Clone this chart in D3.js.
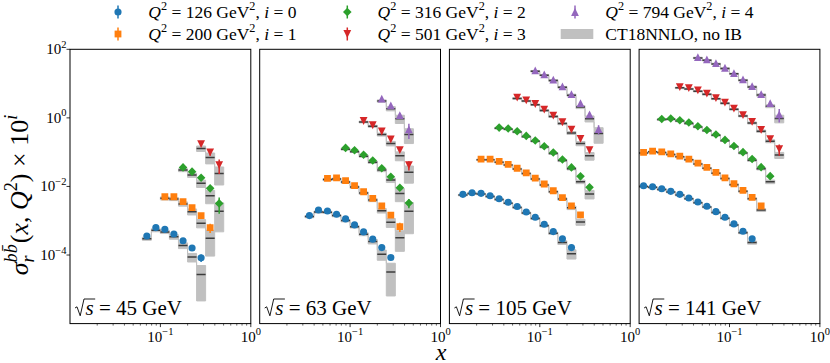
<!DOCTYPE html>
<html><head><meta charset="utf-8">
<script src="https://cdn.jsdelivr.net/npm/d3@7"></script>
<style>
html,body{margin:0;padding:0;background:#fff;}
svg{display:block;}
</style></head><body>
<svg id="chart" width="830" height="363"></svg>
<script>
// ---------------- DATA ----------------
// common x grid (bin centres)
const xGrid = [0.0112, 0.0141, 0.0178, 0.0224, 0.0282, 0.0355, 0.0447, 0.0562, 0.0708, 0.0891, 0.112, 0.141, 0.178, 0.224, 0.282, 0.355, 0.447];
const sqrtS = ["45", "63", "105", "141"];
const q2Values = [126, 200, 316, 501, 794];
const seriesColors = ["#1f77b4", "#ff7f0e", "#2ca02c", "#d62728", "#9467bd"];
const markerShapes = ["circle", "square", "diamond", "triDown", "triUp"];
const theoryLabel = "CT18NNLO, no IB";
const xTickMajor = [0.1, 1];
const xTickExp = ["\u22121", "0"];
const yTickMajor = [1e2, 1e0, 1e-2, 1e-4];
const yTickExp = ["2", "0", "\u22122", "\u22124"];

// sqrt(s) = 45 GeV : first grid index of each Q2 series, reduced cross sections (unscaled)
const start45 = [8, 10, 12, 14];
const data45 = [
  [3.6e-4, 6.3e-4, 5.6e-4, 4.1e-4, 2.6e-4, 1.6e-4, 8.3e-5],
  [5.0e-4, 5.0e-4, 3.6e-4, 2.4e-4, 1.41e-4, 6.3e-5],
  [3.6e-4, 2.7e-4, 1.8e-4, 8.8e-5, 3.2e-5],
  [1.71e-4, 9.8e-5, 4.2e-5]
];
const dataErr45 = [
  [0.04, 0.04, 0.04, 0.05, 0.06, 0.1, 0.25],
  [0.04, 0.04, 0.05, 0.06, 0.1, 0.3],
  [0.05, 0.05, 0.08, 0.15, 0.5],
  [0.08, 0.2, 0.45]
];
const theory45 = [
  [3.0e-4, 5.3e-4, 4.7e-4, 3.4e-4, 1.9e-4, 8.7e-5, 2.7e-5],
  [4.5e-4, 4.3e-4, 3.1e-4, 1.84e-4, 8.5e-5, 3.1e-5],
  [3.0e-4, 2.14e-4, 1.23e-4, 5.4e-5, 1.9e-5],
  [1.28e-4, 7.0e-5, 2.4e-5]
];
const theoryErr45 = [
  [0.1, 0.1, 0.1, 0.15, 0.19, 0.28, 0.83],
  [0.1, 0.1, 0.14, 0.2, 0.27, 0.7],
  [0.1, 0.14, 0.24, 0.42, 0.75],
  [0.18, 0.35, 0.54]
];

// sqrt(s) = 63 GeV
const start63 = [5, 7, 9, 11, 13];
const data63 = [
  [1.41e-3, 2.06e-3, 1.93e-3, 1.55e-3, 1.13e-3, 7.55e-4, 4.72e-4, 2.9e-4, 1.65e-4, 8.45e-5],
  [1.72e-3, 1.79e-3, 1.47e-3, 1.05e-3, 7.0e-4, 4.5e-4, 2.69e-4, 1.45e-4, 6.7e-5],
  [1.33e-3, 1.14e-3, 8.4e-4, 5.7e-4, 3.4e-4, 1.91e-4, 9.2e-5, 3.3e-5],
  [8.1e-4, 6.1e-4, 4.0e-4, 2.34e-4, 1.14e-4, 4.2e-5],
  [3.64e-4, 2.32e-4, 1.21e-4, 4.6e-5]
];
const dataErr63 = [
  [0.04, 0.03, 0.03, 0.03, 0.03, 0.04, 0.05, 0.06, 0.1, 0.15],
  [0.03, 0.03, 0.03, 0.04, 0.05, 0.06, 0.08, 0.12, 0.3],
  [0.03, 0.03, 0.04, 0.05, 0.06, 0.08, 0.15, 0.3],
  [0.04, 0.05, 0.06, 0.08, 0.12, 0.3],
  [0.06, 0.08, 0.15, 0.47]
];
const theory63 = [
  [1.32e-3, 1.80e-3, 1.77e-3, 1.41e-3, 1.01e-3, 6.7e-4, 4.06e-4, 2.47e-4, 1.05e-4, 3.2e-5],
  [1.59e-3, 1.64e-3, 1.34e-3, 9.6e-4, 6.4e-4, 4.0e-4, 1.97e-4, 9.0e-5, 3.2e-5],
  [1.22e-3, 1.035e-3, 7.65e-4, 5.1e-4, 3.0e-4, 1.53e-4, 6.2e-5, 1.9e-5],
  [7.6e-4, 5.7e-4, 3.27e-4, 1.79e-4, 7.9e-5, 2.6e-5],
  [3.1e-4, 1.86e-4, 9.4e-5, 3.3e-5]
];
const theoryErr63 = [
  [0.07, 0.07, 0.07, 0.07, 0.08, 0.08, 0.1, 0.15, 0.33, 0.8],
  [0.07, 0.07, 0.07, 0.08, 0.08, 0.1, 0.15, 0.29, 0.6],
  [0.06, 0.06, 0.07, 0.08, 0.1, 0.15, 0.42, 0.78],
  [0.06, 0.07, 0.1, 0.15, 0.29, 0.52],
  [0.08, 0.14, 0.27, 0.46]
];

// sqrt(s) = 105 GeV
const start105 = [1, 3, 5, 7, 9];
const data105 = [
  [5.89e-3, 6.56e-3, 6.3e-3, 5.37e-3, 4.39e-3, 3.45e-3, 2.61e-3, 1.8e-3, 1.26e-3, 7.9e-4, 4.82e-4, 2.96e-4, 1.65e-4],
  [6.3e-3, 6.3e-3, 5.4e-3, 4.4e-3, 3.4e-3, 2.5e-3, 1.75e-3, 1.18e-3, 7.5e-4, 4.7e-4, 2.7e-4, 1.48e-4],
  [5.2e-3, 4.9e-3, 4.07e-3, 2.98e-3, 2.19e-3, 1.49e-3, 9.8e-4, 6.1e-4, 3.6e-4, 1.97e-4, 9.4e-5],
  [3.89e-3, 3.25e-3, 2.54e-3, 1.74e-3, 1.17e-3, 7.45e-4, 4.57e-4, 2.44e-4, 1.14e-4],
  [2.42e-3, 1.85e-3, 1.3e-3, 8.3e-4, 4.95e-4, 2.71e-4, 1.27e-4, 4.7e-5]
];
const dataErr105 = [
  [0.03, 0.03, 0.03, 0.03, 0.03, 0.03, 0.03, 0.03, 0.04, 0.05, 0.06, 0.1, 0.2],
  [0.03, 0.03, 0.03, 0.03, 0.03, 0.03, 0.03, 0.04, 0.05, 0.06, 0.1, 0.2],
  [0.03, 0.03, 0.03, 0.03, 0.03, 0.03, 0.04, 0.05, 0.06, 0.1, 0.2],
  [0.03, 0.03, 0.03, 0.04, 0.04, 0.05, 0.06, 0.1, 0.15],
  [0.04, 0.04, 0.04, 0.05, 0.06, 0.08, 0.12, 0.3]
];
const theory105 = [
  [5.6e-3, 6.2e-3, 6.0e-3, 5.1e-3, 4.15e-3, 3.25e-3, 2.45e-3, 1.68e-3, 1.17e-3, 7.2e-4, 4.3e-4, 2.31e-4, 1.09e-4],
  [6.0e-3, 6.0e-3, 5.1e-3, 4.2e-3, 3.25e-3, 2.37e-3, 1.66e-3, 1.11e-3, 7.0e-4, 4.3e-4, 2.4e-4, 9.2e-5],
  [4.95e-3, 4.65e-3, 3.85e-3, 2.83e-3, 2.08e-3, 1.41e-3, 9.2e-4, 5.7e-4, 3.3e-4, 1.37e-4, 6.0e-5],
  [3.7e-3, 3.1e-3, 2.42e-3, 1.65e-3, 1.1e-3, 6.8e-4, 3.64e-4, 1.79e-4, 7.8e-5],
  [2.3e-3, 1.76e-3, 1.23e-3, 7.8e-4, 4.6e-4, 2.07e-4, 9.5e-5, 3.5e-5]
];
const theoryErr105 = [
  [0.05, 0.05, 0.05, 0.05, 0.05, 0.05, 0.05, 0.06, 0.06, 0.07, 0.08, 0.12, 0.3],
  [0.05, 0.05, 0.05, 0.05, 0.05, 0.05, 0.06, 0.06, 0.07, 0.08, 0.12, 0.2],
  [0.05, 0.05, 0.05, 0.05, 0.05, 0.06, 0.06, 0.07, 0.08, 0.12, 0.28],
  [0.05, 0.05, 0.05, 0.06, 0.06, 0.07, 0.1, 0.14, 0.25],
  [0.05, 0.05, 0.06, 0.06, 0.07, 0.1, 0.2, 0.48]
];

// sqrt(s) = 141 GeV
const start141 = [0, 0, 2, 4, 6];
const data141 = [
  [1.05e-2, 9.8e-3, 8.57e-3, 7.21e-3, 5.89e-3, 4.6e-3, 3.52e-3, 2.64e-3, 1.84e-3, 1.26e-3, 8.07e-4, 4.95e-4, 2.96e-4],
  [9.8e-3, 1.07e-2, 1.02e-2, 8.9e-3, 7.65e-3, 6.3e-3, 4.8e-3, 3.6e-3, 2.57e-3, 1.79e-3, 1.2e-3, 7.7e-4, 4.8e-4, 2.69e-4],
  [9.3e-3, 9.55e-3, 8.5e-3, 7.3e-3, 5.7e-3, 4.45e-3, 3.27e-3, 2.28e-3, 1.52e-3, 1.0e-3, 6.3e-4, 3.66e-4, 2.0e-4],
  [7.9e-3, 7.4e-3, 6.3e-3, 5.1e-3, 3.78e-3, 2.79e-3, 1.86e-3, 1.21e-3, 7.6e-4, 4.45e-4, 2.39e-4, 1.22e-4],
  [5.9e-3, 5.05e-3, 3.95e-3, 2.9e-3, 2.02e-3, 1.32e-3, 8.45e-4, 4.95e-4, 2.71e-4, 1.27e-4]
];
const dataErr141 = [
  [0.03, 0.03, 0.03, 0.03, 0.03, 0.03, 0.03, 0.03, 0.03, 0.03, 0.03, 0.05, 0.08],
  [0.03, 0.03, 0.03, 0.03, 0.03, 0.03, 0.03, 0.03, 0.03, 0.03, 0.03, 0.03, 0.05, 0.1],
  [0.03, 0.03, 0.03, 0.03, 0.03, 0.03, 0.03, 0.03, 0.03, 0.03, 0.05, 0.07, 0.1],
  [0.03, 0.03, 0.03, 0.03, 0.03, 0.03, 0.03, 0.03, 0.05, 0.08, 0.12, 0.36],
  [0.03, 0.03, 0.03, 0.03, 0.03, 0.04, 0.05, 0.08, 0.12, 0.42]
];
const theory141 = [
  [1.0e-2, 9.4e-3, 8.2e-3, 6.9e-3, 5.6e-3, 4.4e-3, 3.35e-3, 2.5e-3, 1.74e-3, 1.18e-3, 7.5e-4, 4.5e-4, 2.31e-4],
  [9.4e-3, 1.02e-2, 9.7e-3, 8.5e-3, 7.3e-3, 6.0e-3, 4.55e-3, 3.4e-3, 2.44e-3, 1.7e-3, 1.13e-3, 7.2e-4, 4.4e-4, 2.06e-4],
  [8.9e-3, 9.1e-3, 8.1e-3, 6.9e-3, 5.4e-3, 4.2e-3, 3.1e-3, 2.16e-3, 1.44e-3, 9.4e-4, 5.8e-4, 3.3e-4, 1.37e-4],
  [7.5e-3, 7.0e-3, 6.0e-3, 4.85e-3, 3.6e-3, 2.65e-3, 1.77e-3, 1.14e-3, 7.1e-4, 4.1e-4, 2.09e-4, 8.2e-5],
  [5.6e-3, 4.8e-3, 3.75e-3, 2.75e-3, 1.92e-3, 1.25e-3, 8.0e-4, 4.65e-4, 2.2e-4, 9.55e-5]
];
const theoryErr141 = [
  [0.05, 0.05, 0.05, 0.05, 0.05, 0.05, 0.05, 0.05, 0.05, 0.06, 0.06, 0.07, 0.1],
  [0.05, 0.05, 0.05, 0.05, 0.05, 0.05, 0.05, 0.05, 0.05, 0.05, 0.06, 0.06, 0.07, 0.1],
  [0.05, 0.05, 0.05, 0.05, 0.05, 0.05, 0.05, 0.05, 0.05, 0.06, 0.07, 0.08, 0.12],
  [0.05, 0.05, 0.05, 0.05, 0.05, 0.05, 0.05, 0.06, 0.07, 0.08, 0.1, 0.2],
  [0.05, 0.05, 0.05, 0.05, 0.05, 0.06, 0.07, 0.08, 0.1, 0.25]
];

const panelSets = [
  {s: sqrtS[0], start: start45, data: data45, dataErr: dataErr45, theory: theory45, theoryErr: theoryErr45},
  {s: sqrtS[1], start: start63, data: data63, dataErr: dataErr63, theory: theory63, theoryErr: theoryErr63},
  {s: sqrtS[2], start: start105, data: data105, dataErr: dataErr105, theory: theory105, theoryErr: theoryErr105},
  {s: sqrtS[3], start: start141, data: data141, dataErr: dataErr141, theory: theory141, theoryErr: theoryErr141}
];

// ---------------- LAYOUT / STYLE ----------------
const svg = d3.select("#chart");
const FONT = "Liberation Serif";
const left0 = 70, panelW = 180.8, panelGap = 8.9, plotTop = 49.3, plotBottom = 323.6;
const bandColor = "#c0c0c0", centralColor = "#3c3c3c";

function measure(str, fs, italic) {
  const t = svg.append("text").attr("font-family", FONT).attr("font-size", fs).attr("font-style", italic ? "italic" : "normal").text(str);
  const w = t.node().getComputedTextLength();
  t.remove();
  return w;
}
function newText(parent) { return parent.append("text").attr("font-family", FONT).attr("fill", "#000"); }
function addRich(textSel, segs, fs) {
  let shift = 0;
  segs.forEach(s => {
    const ts = textSel.append("tspan").text(s.t);
    let target = 0, size = fs;
    if (s.sup) { target = fs * 0.42; size = fs * 0.7; }
    if (s.sub) { target = -fs * 0.22; size = fs * 0.7; }
    ts.attr("font-size", size);
    if (s.it) ts.attr("font-style", "italic");
    const dy = shift - target;
    if (Math.abs(dy) > 1e-6) ts.attr("dy", dy);
    if (s.dx) ts.attr("dx", s.dx);
    shift = target;
  });
}
function markerPath(shape) {
  switch (shape) {
    case "circle": return d3.symbol(d3.symbolCircle, 40)();
    case "square": return "M-3.4,-3.4L3.4,-3.4L3.4,3.4L-3.4,3.4Z";
    case "diamond": return "M0,-4.3L4.3,0L0,4.3L-4.3,0Z";
    case "triDown": return "M0,3.9L-3.9,-3.9L3.9,-3.9Z";
    case "triUp": return "M0,-3.9L3.9,3.9L-3.9,3.9Z";
  }
}
function edgeL(j) { return j > 0 ? Math.sqrt(xGrid[j - 1] * xGrid[j]) : xGrid[0] * Math.sqrt(xGrid[0] / xGrid[1]); }
function edgeR(j) { const n = xGrid.length; return j < n - 1 ? Math.sqrt(xGrid[j] * xGrid[j + 1]) : xGrid[n - 1] * Math.sqrt(xGrid[n - 1] / xGrid[n - 2]); }

const yScale = d3.scaleLog().domain([1e-6, 1e2]).range([plotBottom, plotTop]);

panelSets.forEach((p, pi) => {
  const left = left0 + pi * (panelW + panelGap);
  const x = d3.scaleLog().domain([0.01, 1]).range([left, left + panelW]);
  const y = yScale;
  const clipId = "clip" + pi;
  svg.append("clipPath").attr("id", clipId).append("rect")
    .attr("x", left).attr("y", plotTop).attr("width", panelW).attr("height", plotBottom - plotTop);
  const plot = svg.append("g").attr("clip-path", `url(#${clipId})`);
  const layers = {band: plot.append("g"), line: plot.append("g"), data: plot.append("g")};

  p.data.forEach((vals, si) => {
    const scale = Math.pow(10, si);
    const i0 = p.start[si];
    const pts = vals.map((v, k) => {
      const j = i0 + k;
      const t = p.theory[si][k] * scale, te = p.theoryErr[si][k] * t;
      return {x: xGrid[j], xl: edgeL(j), xr: edgeR(j), v: v * scale, e: p.dataErr[si][k] * v * scale,
              t: t, hi: t + te, lo: Math.max(t - te, 1e-7)};
    });
    const poly = [];
    pts.forEach(d => { poly.push([x(d.xl), y(d.hi)]); poly.push([x(d.xr), y(d.hi)]); });
    for (let k = pts.length - 1; k >= 0; k--) { const d = pts[k]; poly.push([x(d.xr), y(d.lo)]); poly.push([x(d.xl), y(d.lo)]); }
    layers.band.append("path").attr("d", d3.line()(poly) + "Z")
      .attr("fill", bandColor).attr("stroke", bandColor).attr("stroke-width", 1);
    layers.line.selectAll(null).data(pts).enter().append("line")
      .attr("x1", d => x(d.xl)).attr("x2", d => x(d.xr))
      .attr("y1", d => y(d.t)).attr("y2", d => y(d.t))
      .attr("stroke", centralColor).attr("stroke-width", 1.5);
    const dg = layers.data.append("g");
    dg.selectAll(null).data(pts).enter().append("line")
      .attr("x1", d => x(d.x)).attr("x2", d => x(d.x))
      .attr("y1", d => y(d.v + d.e)).attr("y2", d => y(Math.max(d.v - d.e, 1e-7)))
      .attr("stroke", seriesColors[si]).attr("stroke-width", 1.5);
    dg.selectAll(null).data(pts).enter().append("path")
      .attr("d", markerPath(markerShapes[si]))
      .attr("transform", d => `translate(${x(d.x)},${y(d.v)})`)
      .attr("fill", seriesColors[si]);
  });

  svg.append("rect").attr("x", left).attr("y", plotTop).attr("width", panelW).attr("height", plotBottom - plotTop)
    .attr("fill", "none").attr("stroke", "#000").attr("stroke-width", 1);

  const minor = [];
  [0.01, 0.1].forEach(dec => { for (let m = 2; m <= 9; m++) minor.push(dec * m); });
  svg.append("g").selectAll(null).data(minor).enter().append("line")
    .attr("x1", d => x(d)).attr("x2", d => x(d)).attr("y1", plotBottom).attr("y2", plotBottom + 2)
    .attr("stroke", "#000").attr("stroke-width", 0.6);
  svg.append("g").selectAll(null).data(xTickMajor).enter().append("line")
    .attr("x1", d => x(d)).attr("x2", d => x(d)).attr("y1", plotBottom).attr("y2", plotBottom + 3.5)
    .attr("stroke", "#000").attr("stroke-width", 0.8);
  xTickMajor.forEach((tv, ti) => {
    const t = newText(svg).attr("x", x(tv)).attr("y", 341.5).attr("text-anchor", "middle").attr("font-size", 15);
    addRich(t, [{t: "10"}, {t: xTickExp[ti], sup: true}], 15);
  });

  const fsA = 21, bx = left + 5, by = 315;
  const sW = measure("s", fsA, true);
  svg.append("path")
    .attr("d", `M${bx},${by - 7}L${bx + 2},${by - 8.2}L${bx + 5.2},${by + 0.8}L${bx + 9},${by - 16}L${bx + 10.5 + sW + 1.5},${by - 16}`)
    .attr("fill", "none").attr("stroke", "#000").attr("stroke-width", 0.9);
  const at = newText(svg).attr("x", bx + 10.5).attr("y", by).attr("font-size", fsA);
  addRich(at, [{t: "s", it: true}, {t: " = " + p.s + " GeV"}], fsA);
});

svg.append("g").selectAll(null).data(yTickMajor).enter().append("line")
  .attr("x1", left0 - 3.5).attr("x2", left0).attr("y1", d => yScale(d)).attr("y2", d => yScale(d))
  .attr("stroke", "#000").attr("stroke-width", 0.8);
yTickMajor.forEach((tv, ti) => {
  const t = newText(svg).attr("x", 66.5).attr("y", yScale(tv) + 4.8).attr("text-anchor", "end").attr("font-size", 15);
  addRich(t, [{t: "10"}, {t: yTickExp[ti], sup: true}], 15);
});

newText(svg).attr("x", 441).attr("y", 359.5).attr("text-anchor", "middle")
  .attr("font-size", 24).attr("font-style", "italic").text("x");

const fsY = 26;
const supW = measure("bb\u0304", fsY * 0.7, true), rW = measure("r", fsY * 0.7, true);
const yl = newText(svg).attr("text-anchor", "middle").attr("font-size", fsY)
  .attr("transform", "translate(28,195) rotate(-90)");
addRich(yl, [
  {t: "\u03c3", it: true},
  {t: "bb\u0304", it: true, sup: true},
  {t: "r", it: true, sub: true, dx: -supW},
  {t: "(", dx: supW - rW + 1},
  {t: "x", it: true}, {t: ", "}, {t: "Q", it: true}, {t: "2", sup: true},
  {t: ") \u00d7 10"}, {t: "i", it: true, sup: true}
], fsY);

const legFs = 17.5;
const legCols = [118, 347.3, 575];
const legRows = [12, 34];
const legendItems = q2Values.map((q, i) => ({type: "series", i: i, q: q})).concat([{type: "band"}]);
legendItems.forEach((it, n) => {
  const col = Math.floor(n / 2), row = n % 2;
  const cx = legCols[col], cy = legRows[row];
  if (it.type === "series") {
    svg.append("line").attr("x1", cx).attr("x2", cx).attr("y1", cy - 6.5).attr("y2", cy + 6.5)
      .attr("stroke", seriesColors[it.i]).attr("stroke-width", 1.5);
    svg.append("path").attr("d", markerPath(markerShapes[it.i])).attr("transform", `translate(${cx},${cy})`)
      .attr("fill", seriesColors[it.i]);
    const t = newText(svg).attr("x", cx + 30.3).attr("y", cy + 5.5).attr("font-size", legFs);
    addRich(t, [{t: "Q", it: true}, {t: "2", sup: true}, {t: " = " + it.q + " GeV"}, {t: "2", sup: true},
                {t: ", "}, {t: "i", it: true}, {t: " = " + it.i}], legFs);
  } else {
    svg.append("rect").attr("x", cx - 14.3).attr("y", cy - 5).attr("width", 32.6).attr("height", 10)
      .attr("fill", bandColor);
    newText(svg).attr("x", cx + 30.3).attr("y", cy + 5.5).attr("font-size", legFs).text(theoryLabel);
  }
});
</script>
</body></html>
